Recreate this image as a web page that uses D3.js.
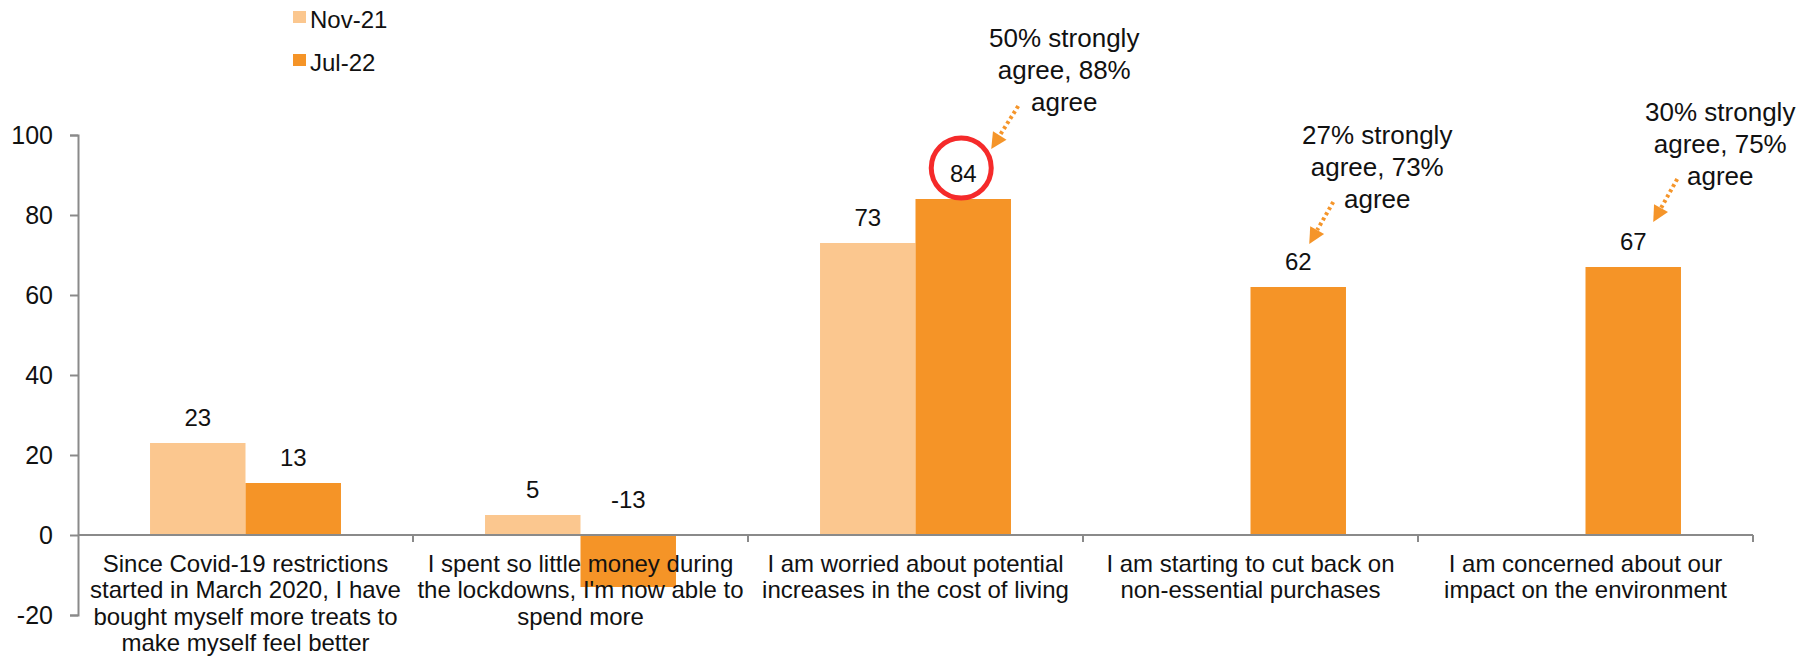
<!DOCTYPE html>
<html>
<head>
<meta charset="utf-8">
<script src="https://cdn.jsdelivr.net/npm/d3@7.9.0/dist/d3.min.js"></script>
<style>
  body { margin: 0; background: #fff; }
  svg { display: block; font-family: Arial, "Liberation Sans", sans-serif; }
</style>
</head>
<body>
<svg id="chart" width="1810" height="658"></svg>
<script>
const categories = [
  "Since Covid-19 restrictions\nstarted in March 2020, I have\nbought myself more treats to\nmake myself feel better",
  "I spent so little money during\nthe lockdowns, I'm now able to\nspend more",
  "I am worried about potential\nincreases in the cost of living",
  "I am starting to cut back on\nnon-essential purchases",
  "I am concerned about our\nimpact on the environment"
];
const series = ["Nov-21", "Jul-22"];
const nov21 = [23, 5, 73, null, null];
const jul22 = [13, -13, 84, 62, 67];
const yTicks = [-20, 0, 20, 40, 60, 80, 100];

// callouts hang off the Jul-22 bars
const calloutIdx = [2, 3, 4];
const calloutText = [
  ["50% strongly", "agree, 88%", "agree"],
  ["27% strongly", "agree, 73%", "agree"],
  ["30% strongly", "agree, 75%", "agree"]
];
const circledIdx = 2;

const colors = {"Nov-21": "#fbc78f", "Jul-22": "#f59427"};
const axisGrey = "#8a8a8a";
const arrowCol = "#f5952a";

const svg = d3.select("#chart");

let x0 = d3.scaleBand().domain(d3.range(categories.length)).range([78, 1753])
  .paddingInner(0.43).paddingOuter(0.215);
let x1 = d3.scaleBand().domain(series).range([0, x0.bandwidth()]);
let y = d3.scaleLinear().domain([-20, 100]).range([615, 135]);

let rows = [];
categories.forEach((c, i) => {
  if (nov21[i] != null) rows.push({i: i, s: "Nov-21", v: nov21[i]});
  if (jul22[i] != null) rows.push({i: i, s: "Jul-22", v: jul22[i]});
});

// bars
svg.append("g").selectAll("rect").data(rows).join("rect")
  .attr("x", d => x0(d.i) + x1(d.s))
  .attr("width", x1.bandwidth())
  .attr("y", d => y(Math.max(0, d.v)))
  .attr("height", d => Math.abs(y(d.v) - y(0)))
  .attr("fill", d => colors[d.s]);

// value labels
svg.append("g").selectAll("text").data(rows).join("text")
  .attr("x", d => x0(d.i) + x1(d.s) + x1.bandwidth() / 2)
  .attr("y", d => d.v >= 0 ? y(d.v) - 17 : y(0) - 27)
  .attr("text-anchor", "middle")
  .attr("font-size", 24)
  .attr("fill", "#111")
  .text(d => d.v);

// y axis
let yAxis = svg.append("g")
  .attr("transform", "translate(78,0)")
  .call(d3.axisLeft(y).tickValues(yTicks).tickFormat(d => String(d))
    .tickSize(8).tickSizeOuter(8).tickPadding(17));
yAxis.selectAll("path, line").attr("stroke", axisGrey).attr("stroke-width", 2);
yAxis.selectAll("text").attr("font-size", 25).attr("fill", "#111").attr("font-family", null);

// x axis line at zero with category boundary ticks
let xg = svg.append("g");
xg.append("line")
  .attr("x1", 78).attr("x2", 1753)
  .attr("y1", y(0)).attr("y2", y(0))
  .attr("stroke", axisGrey).attr("stroke-width", 2);
let step = x0.step();
xg.selectAll("line.tk").data(d3.range(categories.length)).join("line")
  .attr("class", "tk")
  .attr("x1", i => x0(i) + x0.bandwidth() + (step - x0.bandwidth()) / 2)
  .attr("x2", i => x0(i) + x0.bandwidth() + (step - x0.bandwidth()) / 2)
  .attr("y1", y(0)).attr("y2", y(0) + 7)
  .attr("stroke", axisGrey).attr("stroke-width", 2);

// category labels (drawn over the bars)
let cl = svg.append("g").selectAll("text").data(categories).join("text")
  .attr("x", (d, i) => x0(i) + x0.bandwidth() / 2)
  .attr("y", 572)
  .attr("text-anchor", "middle")
  .attr("font-size", 24)
  .attr("fill", "#111");
cl.each(function(d) {
  let t = d3.select(this);
  d.split("\n").forEach((line, k) => {
    t.append("tspan")
      .attr("x", t.attr("x"))
      .attr("dy", k === 0 ? 0 : 26.3)
      .text(line);
  });
});

// legend
let lg = svg.append("g").selectAll("g").data(series).join("g")
  .attr("transform", (d, i) => `translate(293,${11 + i * 43})`);
lg.append("rect").attr("width", 13).attr("height", 12).attr("fill", d => colors[d]);
lg.append("text").attr("x", 17).attr("y", 17).attr("font-size", 24).attr("fill", "#111").text(d => d);

// circle around the highlighted value
let cx = x0(circledIdx) + x1("Jul-22") + x1.bandwidth() / 2;
svg.append("circle")
  .attr("cx", cx - 2)
  .attr("cy", y(jul22[circledIdx]) - 31)
  .attr("r", 30)
  .attr("fill", "none")
  .attr("stroke", "#f52a2a")
  .attr("stroke-width", 5);

// callouts: offsets from bar top centre, hand placed like the original
const calloutLayout = [
  {tip: [28, -50], start: [55, -93], text: [101, -161]},
  {tip: [11, -43], start: [35, -85], text: [79, -152]},
  {tip: [20, -45], start: [44, -88], text: [87, -155]}
];

calloutIdx.forEach((ci, k) => {
  let bx = x0(ci) + x1("Jul-22") + x1.bandwidth() / 2;
  let by = y(jul22[ci]);
  let L = calloutLayout[k];
  let tx = bx + L.tip[0], ty = by + L.tip[1];
  let sx = bx + L.start[0], sy = by + L.start[1];
  let dx = tx - sx, dy = ty - sy, len = Math.hypot(dx, dy);
  let ux = dx / len, uy = dy / len;
  let headLen = 16, headW = 8;
  let hx = tx - ux * headLen, hy = ty - uy * headLen;

  svg.append("line")
    .attr("x1", sx).attr("y1", sy).attr("x2", hx).attr("y2", hy)
    .attr("stroke", arrowCol).attr("stroke-width", 4)
    .attr("stroke-dasharray", "3,3");
  svg.append("path")
    .attr("d", `M${tx},${ty}L${hx - uy * headW},${hy + ux * headW}L${hx + uy * headW},${hy - ux * headW}Z`)
    .attr("fill", arrowCol);

  let txt = svg.append("text")
    .attr("text-anchor", "middle")
    .attr("font-size", 26)
    .attr("fill", "#111");
  calloutText[k].forEach((line, j) => {
    txt.append("tspan")
      .attr("x", bx + L.text[0])
      .attr("y", by + L.text[1] + 9.3 + j * 32)
      .text(line);
  });
});
</script>
</body>
</html>
